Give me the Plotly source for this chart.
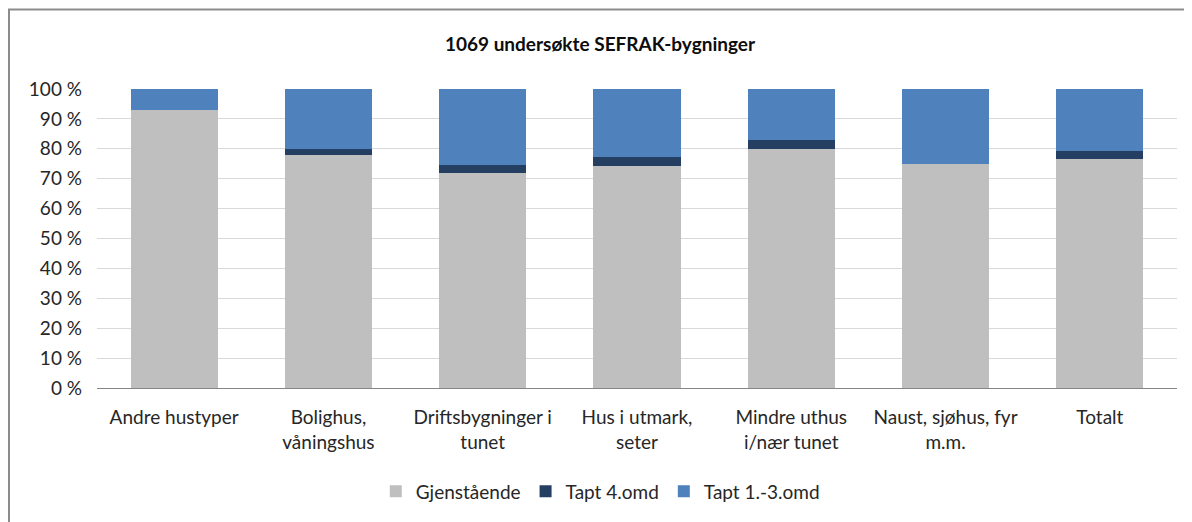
import plotly.graph_objects as go

categories = ["Andre hustyper", "Bolighus,<br>våningshus", "Driftsbygninger i<br>tunet",
              "Hus i utmark,<br>seter", "Mindre uthus<br>i/nær tunet", "Naust, sjøhus, fyr<br>m.m.", "Totalt"]
gjenstaende = [93.0, 78.0, 72.0, 74.1, 80.0, 75.0, 76.6]
tapt_4 = [0.0, 1.8, 2.7, 3.1, 3.0, 0.0, 2.7]
tapt_1_3 = [7.0, 20.2, 25.3, 22.8, 17.0, 25.0, 20.7]
tick_vals = [0, 10, 20, 30, 40, 50, 60, 70, 80, 90, 100]
tick_text = [f"{v} %" for v in tick_vals]

font = "Lato, Open Sans, sans-serif"

fig = go.Figure()
fig.add_bar(x=categories, y=gjenstaende, name="Gjenstående", marker=dict(color="#bfbfbf", line=dict(width=0)))
fig.add_bar(x=categories, y=tapt_4, name="Tapt 4.omd", marker=dict(color="#243f62", line=dict(width=0)))
fig.add_bar(x=categories, y=tapt_1_3, name="Tapt 1.-3.omd", marker=dict(color="#4f81bd", line=dict(width=0)))

W, H = 1184, 514
fig.update_layout(
    barmode="stack",
    bargap=0.435,
    width=W, height=H,
    margin=dict(l=89, r=15, t=81, b=132),
    paper_bgcolor="white", plot_bgcolor="white",
    font=dict(family=font, size=19, color="#262626"),
    title=dict(text="<b>1069 undersøkte SEFRAK-bygninger</b>", x=0.5, xanchor="center",
               y=1 - 36 / H, yanchor="middle", font=dict(size=19, color="#0d0d0d")),
    legend=dict(orientation="h", x=0.466, xanchor="center", y=-(494 - 390) / 301, yanchor="middle",
                font=dict(size=19), traceorder="normal", itemwidth=30),
    xaxis=dict(showgrid=False, showline=True, linecolor="#868686", linewidth=1, ticks="",
               ticklabelstandoff=12, tickfont=dict(size=19), fixedrange=True),
    yaxis=dict(range=[0, 100], tickvals=tick_vals, ticktext=tick_text, showgrid=True,
               gridcolor="#d9d9d9", gridwidth=1, zeroline=False, showline=False, ticks="",
               ticklabelstandoff=14, tickfont=dict(size=19)),
    shapes=[dict(type="rect", xref="paper", yref="paper", x0=-88 / 1080, x1=1.2,
                 y0=-0.6, y1=1 + 80 / 301, line=dict(color="#8c8c8c", width=2), layer="below")],
)

fig.write_html("out.html")
